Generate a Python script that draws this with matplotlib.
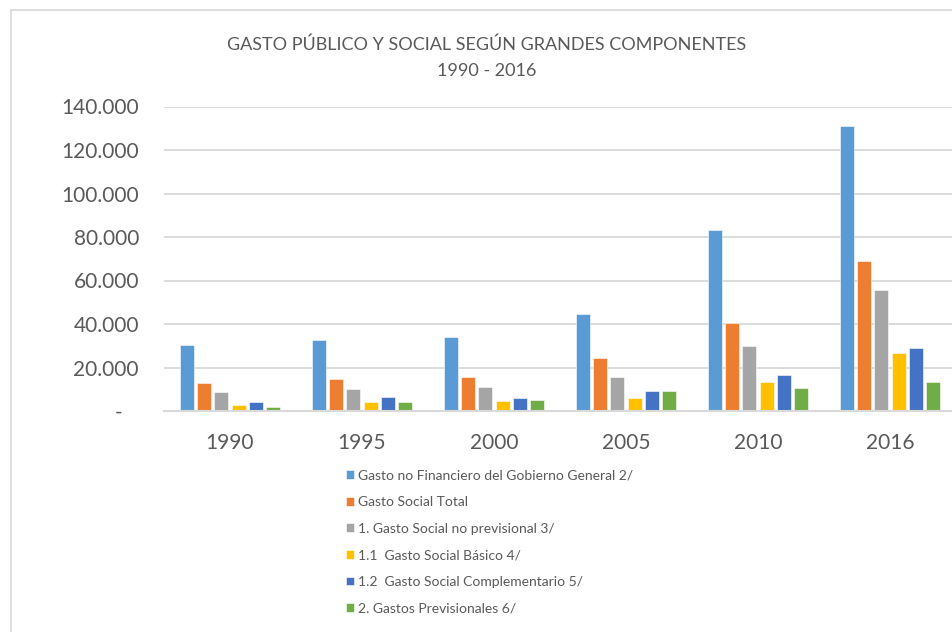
import numpy as np
import matplotlib.pyplot as plt
from matplotlib.lines import Line2D
from matplotlib.ticker import FuncFormatter

plt.rcParams['font.family'] = ['Lato', 'DejaVu Sans']

years = ['1990', '1995', '2000', '2005', '2010', '2016']
series_names = [
    'Gasto no Financiero del Gobierno General 2/',
    'Gasto Social Total',
    '1. Gasto Social no previsional 3/',
    '1.1  Gasto Social Básico 4/',
    '1.2  Gasto Social Complementario 5/',
    '2. Gastos Previsionales 6/',
]
gasto_no_financiero = [30500, 32600, 34200, 44600, 83000, 131000]
gasto_social_total = [12700, 14700, 15800, 24500, 40400, 68800]
social_no_previsional = [8600, 10300, 10900, 15500, 29800, 55600]
social_basico = [2800, 4100, 4600, 6000, 13200, 26500]
social_complementario = [4100, 6400, 6100, 9400, 16700, 28800]
gastos_previsionales = [1800, 4100, 4900, 9100, 10600, 13200]

series = [gasto_no_financiero, gasto_social_total, social_no_previsional,
          social_basico, social_complementario, gastos_previsionales]
colors = ['#5B9BD5', '#ED7D31', '#A5A5A5', '#FFC000', '#4472C4', '#70AD47']
text_color = '#595959'
grid_color = '#D9D9D9'

W, H = 953, 632
fig = plt.figure(figsize=(W / 100, H / 100), dpi=100)

# outer chart border (left and top edges are visible)
fig.add_artist(Line2D([11 / W, 11 / W], [0, 1 - 10 / H], color=grid_color, lw=1.2))
fig.add_artist(Line2D([11 / W, 1], [1 - 10 / H, 1 - 10 / H], color=grid_color, lw=1.2))

ax = fig.add_axes([164 / W, 221 / H, 792 / W, 304.5 / H])

x = np.arange(len(years))
slot = 0.129
bar_w = 0.106
handles = []
for i, (vals, col) in enumerate(zip(series, colors)):
    b = ax.bar(x + (i - 2.5) * slot, vals, width=bar_w, color=col,
               edgecolor='white', linewidth=0.4, zorder=3)
    handles.append(b)

ax.set_xlim(-0.5, len(years) - 0.5)
ax.set_ylim(0, 140000)
ax.set_yticks(np.arange(0, 140001, 20000))
ax.yaxis.set_major_formatter(FuncFormatter(
    lambda v, p: '-   ' if v == 0 else f'{int(v):,}'.replace(',', '.')))
ax.grid(axis='y', color=grid_color, lw=1.3, zorder=0)
for s in ['top', 'right', 'left']:
    ax.spines[s].set_visible(False)
ax.spines['bottom'].set_color(grid_color)
ax.spines['bottom'].set_linewidth(1.5)
ax.spines['bottom'].set_zorder(4)

ax.set_xticks(x)
ax.set_xticklabels(years)
ax.tick_params(axis='x', length=0, pad=16, labelsize=15, labelcolor=text_color)
ax.tick_params(axis='y', length=0, pad=18, labelsize=15, labelcolor=text_color)

fig.text(487 / W, 1 - 45 / H, 'GASTO PÚBLICO Y SOCIAL SEGÚN GRANDES COMPONENTES',
         ha='center', va='center', fontsize=13, color=text_color)
fig.text(487 / W, 1 - 71 / H, '1990 - 2016',
         ha='center', va='center', fontsize=13, color=text_color)

fig.legend(handles, series_names, loc='upper left',
           bbox_to_anchor=(340 / W, 1 - 464 / H), frameon=False,
           fontsize=10, labelcolor=text_color, handlelength=0.6,
           handleheight=0.6, handletextpad=0.3, labelspacing=1.05,
           borderaxespad=0)

fig.savefig('out.png', dpi=100)
